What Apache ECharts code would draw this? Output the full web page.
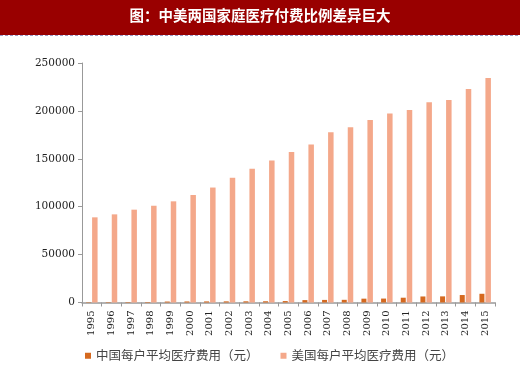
<!DOCTYPE html>
<html>
<head>
<meta charset="utf-8">
<script src="https://cdn.jsdelivr.net/npm/echarts@6/dist/echarts.min.js"></script>
<style>
html,body{margin:0;padding:0;background:#fff;}
#chart{width:520px;height:371px;}
</style>
</head>
<body>
<div id="chart"></div>
<script>
const titleText = '图：中美两国家庭医疗付费比例差异巨大';
const years = ['1995','1996','1997','1998','1999','2000','2001','2002','2003','2004','2005','2006','2007','2008','2009','2010','2011','2012','2013','2014','2015'];
const chinaName = '中国每户平均医疗费用（元）';
const usName = '美国每户平均医疗费用（元）';
const chinaValues = [400, 450, 500, 550, 1000, 1100, 1150, 1200, 1250, 1300, 1500, 2500, 2700, 2800, 4000, 4100, 5000, 6300, 6400, 7800, 9100];
const usValues = [88900, 92000, 96900, 101000, 105600, 112200, 120000, 130200, 139600, 148300, 157000, 164900, 177800, 183000, 190600, 197200, 201000, 209000, 211500, 222900, 234400];
const yTicks = {min: 0, max: 250000, interval: 50000};

const chart = echarts.init(document.getElementById('chart'), null, {renderer: 'canvas'});
chart.setOption({
  backgroundColor: '#ffffff',
  animation: false,
  graphic: [
    {type: 'rect', shape: {x: 0, y: 0, width: 520, height: 35}, style: {fill: '#990000'}},
    {type: 'line', shape: {x1: 0, y1: 35.5, x2: 520, y2: 35.5}, style: {stroke: '#9a9ac8', lineWidth: 1, lineDash: [3, 2]}},
    {type: 'text', left: 'center', top: 8, style: {text: titleText, fill: '#ffffff', font: 'bold 14.5px "Noto Sans CJK SC"'}}
  ],
  legend: {
    bottom: 4,
    left: 80,
    itemGap: 22,
    itemWidth: 6,
    itemHeight: 6,
    icon: 'rect',
    textStyle: {fontFamily: '"Noto Sans CJK SC"', fontSize: 12.5, color: '#444'},
    data: [chinaName, usName]
  },
  grid: {left: 82, right: 25, top: 63, bottom: 68.5, containLabel: false},
  xAxis: {
    type: 'category',
    data: years,
    axisLine: {lineStyle: {color: '#999', width: 1.5}},
    axisTick: {show: true, length: 4, lineStyle: {color: '#999'}},
    axisLabel: {rotate: 90, fontFamily: '"DejaVu Serif"', fontSize: 10, color: '#222', margin: 8}
  },
  yAxis: {
    type: 'value',
    min: yTicks.min, max: yTicks.max, interval: yTicks.interval,
    axisLine: {show: true, lineStyle: {color: '#999', width: 1}},
    axisTick: {show: true, length: 4, lineStyle: {color: '#999'}},
    splitLine: {show: false},
    axisLabel: {fontFamily: '"DejaVu Serif"', fontSize: 10.5, color: '#222', margin: 7, formatter: v => String(v)}
  },
  series: [
    {name: chinaName, type: 'bar', data: chinaValues, barWidth: 5, barGap: '20%', itemStyle: {color: '#D5691F'}},
    {name: usName, type: 'bar', data: usValues, barWidth: 5.5, barGap: '20%', itemStyle: {color: '#F4A88A'}}
  ]
});
</script>
</body>
</html>
